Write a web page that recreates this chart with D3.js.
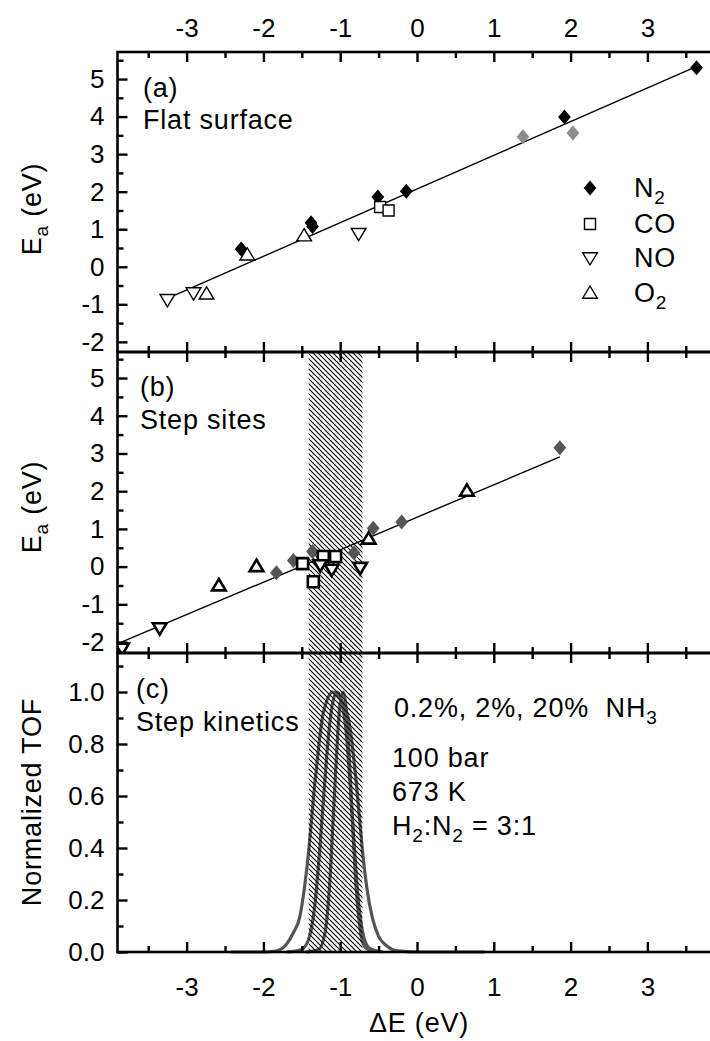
<!DOCTYPE html>
<html><head><meta charset="utf-8">
<script src="https://cdn.jsdelivr.net/npm/d3@7"></script>
<style>
body{margin:0;background:#fff}
svg{display:block}
text{font-family:"Liberation Sans",Arial,Helvetica,sans-serif;fill:#000}
</style>
</head><body>
<svg id="chart" width="710" height="1041"></svg>
<script>
// ---------- data ----------
const xMajorTicks = [-3,-2,-1,0,1,2,3];
const xMinorTicks = [-3.5,-2.5,-1.5,-0.5,0.5,1.5,2.5,3.5];
const eaMajorTicks = [-2,-1,0,1,2,3,4,5];
const eaMinorTicks = [-1.5,-0.5,0.5,1.5,2.5,3.5,4.5,5.5];
const tofMajorTicks = [0,0.2,0.4,0.6,0.8,1.0];
const tofMinorTicks = [0.1,0.3,0.5,0.7,0.9,1.1];

// panel (a) flat surface  [ΔE, Ea]
const flatN2 = [[-2.29,0.47],[-1.38,1.17],[-1.36,1.07],[-0.51,1.86],[-0.14,2.01],[1.92,3.99],[3.64,5.30]];
const flatN2Gray = [[1.38,3.46],[2.03,3.56]];
const flatCO = [[-0.48,1.59],[-0.37,1.50]];
const flatNO = [[-3.25,-0.88],[-2.91,-0.70],[-0.76,0.88]];
const flatO2 = [[-2.21,0.32],[-2.74,-0.72],[-1.47,0.83]];
const flatFit = [[-3.19,-0.79],[3.62,5.32]];

// panel (b) step sites
const stepN2 = [[1.86,3.15],[-0.20,1.18],[-0.57,1.02],[-0.82,0.37],[-1.36,0.40],[-1.61,0.16],[-1.83,-0.16]];
const stepCO = [[-1.49,0.08],[-1.22,0.27],[-1.06,0.27],[-1.35,-0.40]];
const stepNO = [[-0.74,-0.03],[-1.26,0.04],[-1.11,-0.08],[-3.35,-1.63],[-3.84,-2.17]];
const stepO2 = [[0.65,2.01],[-0.63,0.74],[-2.09,0.01],[-2.58,-0.50]];
const stepFit = [[-3.88,-2.03],[1.86,2.91]];

// hatched optimum band
const bandRange = [-1.41,-0.71];

// panel (c) normalized TOF curves [ΔE, TOF]
const tofCurve1 = [[-2.42,0],[-2.0,0],[-1.84,0.004],[-1.70,0.03],[-1.60,0.08],[-1.53,0.13],[-1.46,0.26],[-1.41,0.39],[-1.37,0.52],[-1.33,0.65],[-1.28,0.79],[-1.23,0.905],[-1.17,0.97],[-1.10,1.0],[-1.03,0.985],[-0.95,0.95],[-0.87,0.86],[-0.83,0.76],[-0.79,0.65],[-0.75,0.52],[-0.71,0.39],[-0.65,0.24],[-0.58,0.13],[-0.50,0.06],[-0.40,0.025],[-0.25,0.004],[0.0,0],[0.88,0]];
const tofCurve2 = [[-1.70,0],[-1.50,0.01],[-1.40,0.06],[-1.33,0.18],[-1.27,0.38],[-1.21,0.62],[-1.15,0.84],[-1.09,0.97],[-1.04,1.0],[-0.98,0.96],[-0.92,0.84],[-0.87,0.64],[-0.82,0.42],[-0.77,0.22],[-0.71,0.08],[-0.62,0.015],[-0.45,0]];
const tofCurve3 = [[-1.45,0],[-1.28,0.01],[-1.20,0.07],[-1.14,0.25],[-1.09,0.52],[-1.04,0.80],[-1.00,0.96],[-0.96,1.0],[-0.92,0.93],[-0.88,0.74],[-0.84,0.50],[-0.80,0.28],[-0.75,0.11],[-0.68,0.02],[-0.55,0]];

// ---------- layout ----------
const svg = d3.select('#chart');
const FS = 26;      // tick label size
const FT = 27;      // annotation size
const LS = 0.8;     // annotation letter spacing
const x = d3.scaleLinear().domain([-3.9,3.9]).range([117.5,716.5]);
const panels = [
  {top:52,  bottom:352, y: d3.scaleLinear().domain([-2.27,5.72]).range([352,52])},
  {top:352, bottom:653, y: d3.scaleLinear().domain([-2.29,5.69]).range([653,352])},
  {top:653, bottom:952, y: d3.scaleLinear().domain([0,1.15]).range([952,653])}
];
const defs = svg.append('defs');
panels.forEach((p,i)=>{
  defs.append('clipPath').attr('id','clip'+i).append('rect')
    .attr('x',x.range()[0]).attr('y',p.top).attr('width',x.range()[1]-x.range()[0]).attr('height',p.bottom-p.top);
});
const pat = defs.append('pattern').attr('id','hatch').attr('patternUnits','userSpaceOnUse')
  .attr('width',5).attr('height',5);
pat.append('path').attr('d','M-1,-1 L6,6 M-1,4 L1,6 M4,-1 L6,1').attr('stroke','#000').attr('stroke-width',1.1);

function drawBand(pIdx){
  const p = panels[pIdx];
  svg.append('rect').attr('x',x(bandRange[0])).attr('width',x(bandRange[1])-x(bandRange[0]))
    .attr('y',p.top).attr('height',p.bottom-p.top).attr('fill','url(#hatch)');
}
drawBand(1);

// ---------- markers ----------
function diamondPath(s){ return `M0,${-s}L${s*0.85},0L0,${s}L${-s*0.85},0Z`; }
function squarePath(s){ return `M${-s},${-s}H${s}V${s}H${-s}Z`; }
function triUpPath(s){ return `M0,${-s*1.0}L${s*1.05},${s*0.75}L${-s*1.05},${s*0.75}Z`; }
function triDownPath(s){ return `M0,${s*1.0}L${s*1.05},${-s*0.75}L${-s*1.05},${-s*0.75}Z`; }

function drawPoints(g, data, yS, pathStr, fill, stroke, sw){
  g.selectAll(null).data(data).enter().append('path')
    .attr('transform',d=>`translate(${x(d[0])},${yS(d[1])})`)
    .attr('d',pathStr).attr('fill',fill).attr('stroke',stroke).attr('stroke-width',sw)
    .attr('stroke-linejoin','miter');
}
const line = d3.line().x(d=>x(d[0]));

// panel a
{
  const p = panels[0];
  const g = svg.append('g').attr('clip-path','url(#clip0)');
  g.append('path').datum(flatFit).attr('d', line.y(d=>p.y(d[1]))).attr('fill','none').attr('stroke','#000').attr('stroke-width',1.4);
  drawPoints(g, flatN2Gray, p.y, diamondPath(7.5), '#8c8c8c', 'none', 0);
  drawPoints(g, flatN2, p.y, diamondPath(7.5), '#000', 'none', 0);
  drawPoints(g, flatCO, p.y, squarePath(5.5), '#fff', '#000', 1.4);
  drawPoints(g, flatNO, p.y, triDownPath(7), '#fff', '#000', 1.4);
  drawPoints(g, flatO2, p.y, triUpPath(7), '#fff', '#000', 1.4);
}
// panel b
{
  const p = panels[1];
  const g = svg.append('g').attr('clip-path','url(#clip1)');
  g.append('path').datum(stepFit).attr('d', line.y(d=>p.y(d[1]))).attr('fill','none').attr('stroke','#000').attr('stroke-width',1.4);
  drawPoints(g, stepN2, p.y, diamondPath(7.5), '#555', 'none', 0);
  drawPoints(g, stepCO, p.y, squarePath(5.5), '#fff', '#000', 2.6);
  drawPoints(g, stepNO, p.y, triDownPath(6.5), '#fff', '#000', 2.6);
  drawPoints(g, stepO2, p.y, triUpPath(6.5), '#fff', '#000', 2.6);
}
// panel c
{
  const p = panels[2];
  const g = svg.append('g');
  const cl = d3.line().x(d=>x(d[0])).y(d=>p.y(d[1])).curve(d3.curveMonotoneX);
  [tofCurve1,tofCurve2,tofCurve3].forEach(c=>{
    g.append('path').datum(c).attr('d',cl).attr('fill','none').attr('stroke','#555').attr('stroke-width',3.2);
  });
}
drawBand(2);

// ---------- frames and axes ----------
const axG = svg.append('g');
panels.forEach((p,i)=>{
  const isTop = i===0, isBottom = i===2;
  axG.append('g').attr('transform',`translate(0,${p.top})`)
    .call(d3.axisTop(x).tickValues(xMajorTicks).tickSize(-10).tickPadding(15).tickFormat(isTop? d3.format('d') : ''))
    .call(s=>s.select('.domain').remove());
  axG.append('g').attr('transform',`translate(0,${p.top})`)
    .call(d3.axisTop(x).tickValues(xMinorTicks).tickSize(-6).tickFormat(''))
    .call(s=>s.select('.domain').remove());
  axG.append('g').attr('transform',`translate(0,${p.bottom})`)
    .call(d3.axisBottom(x).tickValues(xMajorTicks).tickSize(-10).tickPadding(26).tickFormat(isBottom? d3.format('d') : ''))
    .call(s=>s.select('.domain').remove());
  axG.append('g').attr('transform',`translate(0,${p.bottom})`)
    .call(d3.axisBottom(x).tickValues(xMinorTicks).tickSize(-6).tickFormat(''))
    .call(s=>s.select('.domain').remove());
  const maj = i<2 ? eaMajorTicks : tofMajorTicks;
  const mn = i<2 ? eaMinorTicks : tofMinorTicks;
  const fmt = i<2 ? d3.format('d') : d3.format('.1f');
  axG.append('g').attr('transform',`translate(${x.range()[0]},0)`)
    .call(d3.axisLeft(p.y).tickValues(maj).tickSize(-10).tickPadding(13).tickFormat(fmt))
    .call(s=>s.select('.domain').remove());
  axG.append('g').attr('transform',`translate(${x.range()[0]},0)`)
    .call(d3.axisLeft(p.y).tickValues(mn).tickSize(-6).tickFormat(''))
    .call(s=>s.select('.domain').remove());
  axG.append('rect').attr('x',x.range()[0]).attr('y',p.top).attr('width',x.range()[1]-x.range()[0]).attr('height',p.bottom-p.top)
    .attr('fill','none').attr('stroke','#000').attr('stroke-width',2.6);
});
axG.selectAll('.tick line').attr('stroke','#000').attr('stroke-width',2.4);
axG.selectAll('.tick text').attr('font-size',FS).attr('font-family','"Liberation Sans",Arial,sans-serif').attr('fill','#000');
axG.selectAll('.tick text').text(function(){ return d3.select(this).text().replace('\u2212','-'); });

// ---------- texts ----------
function txt(xp,yp,str,opts={}){
  return svg.append('text').attr('x',xp).attr('y',yp).attr('font-size',opts.fs||FT)
    .attr('letter-spacing',LS).attr('text-anchor',opts.anchor||'start').text(str);
}
txt(143,97,'(a)'); txt(143,129,'Flat surface');
txt(140,396,'(b)'); txt(140,429,'Step sites');
txt(136,698,'(c)'); txt(136,731,'Step kinetics');

const t1 = txt(394,717,'0.2%, 2%, 20%\u00A0 NH');
t1.append('tspan').attr('dy',7).attr('font-size',19).text('3');
txt(392,767,'100 bar');
txt(392,801,'673 K');
const t2 = txt(392,835,'H');
t2.append('tspan').attr('dy',7).attr('font-size',19).text('2');
t2.append('tspan').attr('dy',-7).text(':N');
t2.append('tspan').attr('dy',7).attr('font-size',19).text('2');
t2.append('tspan').attr('dy',-7).text(' = 3:1');

// legend
const legendItems = [
  {name:'N', sub:'2', path:diamondPath(7.5), fill:'#000', stroke:'none'},
  {name:'CO', sub:'', path:squarePath(5.5), fill:'#fff', stroke:'#000'},
  {name:'NO', sub:'', path:triDownPath(7), fill:'#fff', stroke:'#000'},
  {name:'O', sub:'2', path:triUpPath(7), fill:'#fff', stroke:'#000'}
];
const legendY = [188,224,258,293];
legendItems.forEach((it,i)=>{
  svg.append('path').attr('transform',`translate(590,${legendY[i]})`).attr('d',it.path)
    .attr('fill',it.fill).attr('stroke',it.stroke).attr('stroke-width',1.4);
  const t = txt(634,legendY[i]+9,it.name);
  if(it.sub) t.append('tspan').attr('dy',7).attr('font-size',19).text(it.sub);
});

// axis titles
function vlabel(cy,parts){
  const t = svg.append('text').attr('transform',`translate(41,${cy}) rotate(-90)`).attr('text-anchor','middle')
    .attr('font-size',FT).attr('letter-spacing',LS);
  parts.forEach(pp=>{ const s=t.append('tspan').text(pp.t); if(pp.dy) s.attr('dy',pp.dy); if(pp.fs) s.attr('font-size',pp.fs); });
}
vlabel(209,[{t:'E'},{t:'a',dy:7,fs:19},{t:' (eV)',dy:-7}]);
vlabel(507,[{t:'E'},{t:'a',dy:7,fs:19},{t:' (eV)',dy:-7}]);
vlabel(802,[{t:'Normalized TOF'}]);
txt(419,1032,'\u0394E (eV)',{anchor:'middle'});
</script>
</body></html>
